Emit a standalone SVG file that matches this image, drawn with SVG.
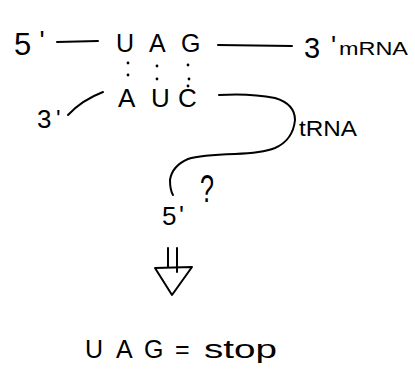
<svg xmlns="http://www.w3.org/2000/svg" width="415" height="378" viewBox="0 0 415 378">
<style>
.t{font-family:"Liberation Sans","DejaVu Sans",sans-serif;fill:#000}
.ln{fill:none;stroke:#000;stroke-width:2;stroke-linecap:round;stroke-linejoin:round}
.dot{fill:#000}
</style>
<rect width="415" height="378" fill="#fff"/>
<g id="mrna">
<text class="t" x="14" y="55" font-size="31">5</text>
<text class="t" x="39.5" y="50" font-size="27">'</text>
<text class="t" font-size="25" y="52"><tspan x="116">U</tspan><tspan x="149">A</tspan><tspan x="181">G</tspan></text>
<text class="t" x="304" y="58" font-size="29">3</text>
<text class="t" x="331" y="55" font-size="27">'</text>
<text class="t" x="339" y="55" font-size="19" textLength="69" lengthAdjust="spacingAndGlyphs">mRNA</text>
</g>
<g id="trna">
<text class="t" font-size="26" y="107"><tspan x="118">A</tspan><tspan x="151">U</tspan><tspan x="178">C</tspan></text>
<text class="t" x="37" y="128" font-size="26">3</text>
<text class="t" x="56" y="126.5" font-size="24">'</text>
<text class="t" x="299" y="136" font-size="22" textLength="58" lengthAdjust="spacingAndGlyphs">tRNA</text>
<text class="t" x="200" y="202" font-size="38" textLength="14" lengthAdjust="spacingAndGlyphs">?</text>
<text class="t" x="162" y="225" font-size="26">5</text>
<text class="t" x="179" y="224" font-size="26">'</text>
</g>
<g id="result">
<text class="t" font-size="25" y="358"><tspan x="85">U</tspan><tspan x="116">A</tspan><tspan x="144">G</tspan><tspan x="175">=</tspan></text>
<text class="t" font-size="25" y="358" x="204" textLength="73" lengthAdjust="spacingAndGlyphs">stop</text>
</g>
<g id="connectors">
<path class="ln" d="M57 42 L98 41"/>
<path class="ln" d="M218 45 L292 46"/>
<path class="ln" d="M68 115 Q82 100 103 92"/>
<path class="ln" d="M219 95 Q250 93 275 98 Q295 104 295 120 Q293 140 275 148 Q262 153 235 154 Q200 155 188 159 Q172 166 170 180 Q170 190 173 195"/>
<circle class="dot" cx="128" cy="63" r="1.4"/>
<circle class="dot" cx="128" cy="75" r="1.4"/>
<circle class="dot" cx="157" cy="66" r="1.4"/>
<circle class="dot" cx="157" cy="79" r="1.4"/>
<circle class="dot" cx="188" cy="65" r="1.4"/>
<circle class="dot" cx="189" cy="79" r="1.4"/>
<circle class="dot" cx="188" cy="86" r="1.4"/>
<path class="ln" d="M168 248 L168 267 M177 248 L177 272"/>
<path class="ln" d="M155 268 L192 267 L172 295 Z"/>
</g>
</svg>
